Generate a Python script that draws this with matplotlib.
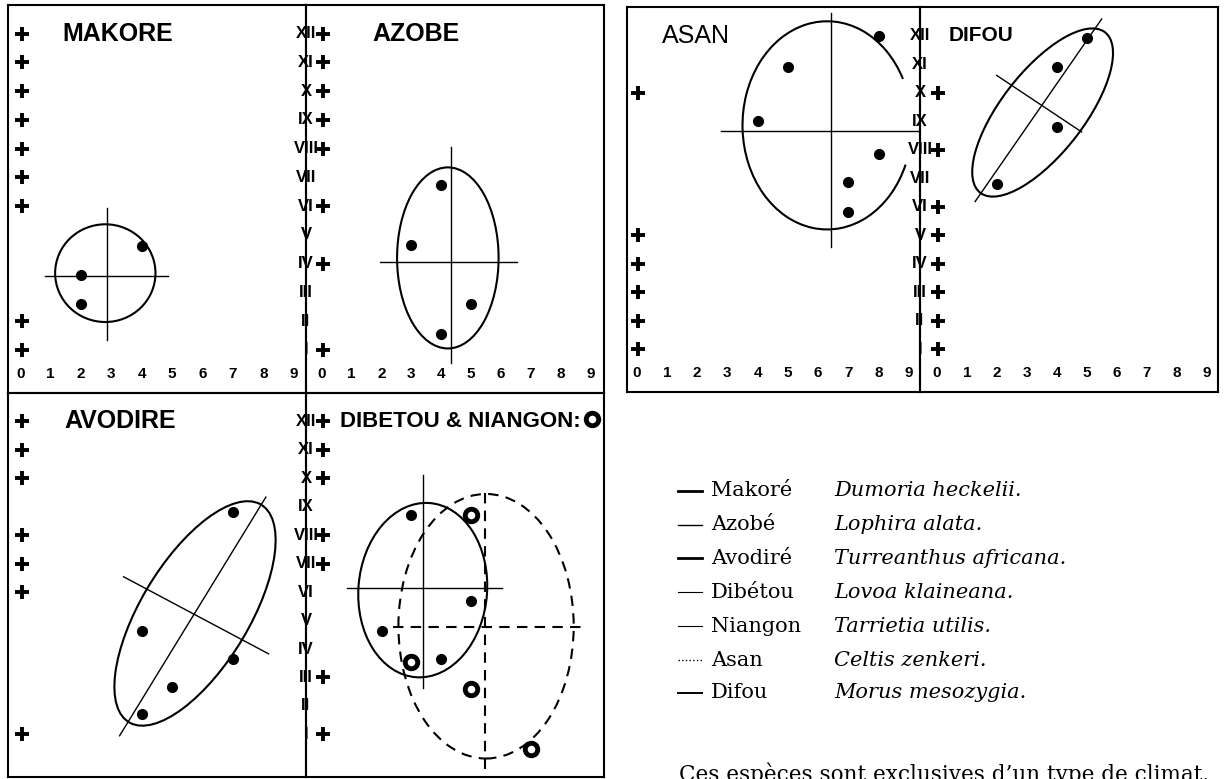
import matplotlib
matplotlib.use('Agg')
import matplotlib.pyplot as plt
from matplotlib.patches import Ellipse, Arc
from matplotlib.lines import Line2D

W, H = 1224, 779
SANS = ['Liberation Sans', 'DejaVu Sans']
SERIF = ['DejaVu Serif', 'Liberation Serif']

# months, I (bottom) .. XII (top)
months = list(range(1, 13))
roman = ['I', 'II', 'III', 'IV', 'V', 'VI', 'VII', 'VIII', 'IX', 'X', 'XI', 'XII']
xticks = list(range(10))

# months marked with a cross, per species
makore_plus = [12, 11, 10, 9, 8, 7, 6, 2, 1]
azobe_plus = [12, 11, 10, 9, 8, 6, 4, 1]
asan_plus = [10, 5, 4, 3, 2, 1]
difou_plus = [10, 8, 6, 5, 4, 3, 2, 1]
avodire_plus = [12, 11, 10, 8, 7, 6, 1]
dibetou_plus = [12, 11, 10, 8, 7, 3, 1]

# points
makore_x = [4, 2, 2]
makore_y = [4.6, 3.6, 2.6]
azobe_x = [4, 3, 5, 4]
azobe_y = [6.75, 4.65, 2.6, 1.55]
asan_x = [8, 5, 4, 8, 7, 7]
asan_y = [12.0, 10.9, 9.0, 7.85, 6.85, 5.8]
difou_x = [5, 4, 4, 2]
difou_y = [11.9, 10.9, 8.8, 6.8]
avodire_x = [7, 4, 7, 5, 4]
avodire_y = [8.8, 4.65, 3.65, 2.65, 1.7]
dibetou_x = [3, 5, 2, 4]
dibetou_y = [8.7, 5.7, 4.65, 3.65]
niangon_x = [5, 3, 5, 7]
niangon_y = [8.7, 3.55, 2.6, 0.5]

# envelopes: (cx, cy, width, height, angle) and axis lines ((x0, x1), (y0, y1))
makore_env = (2.8, 3.67, 3.3, 3.4, 0)
makore_lines = [((2.86, 2.86), (1.33, 5.95)), ((0.82, 4.87), (3.57, 3.57))]
azobe_env = (4.22, 4.2, 3.4, 6.3, 0)
azobe_lines = [((4.34, 4.34), (0.53, 8.06)), ((1.96, 6.52), (4.06, 4.06))]
asan_env = (6.3, 8.85, 5.6, 7.3, 0)
asan_lines = [((6.44, 6.44), (4.6, 12.8)), ((2.78, 9.3), (8.64, 8.64))]
difou_env = (3.53, 9.3, 7.0, 2.8, 54)
difou_lines = [((1.28, 5.5), (6.18, 12.58)), ((2.0, 4.83), (10.6, 8.62))]
avodire_env = (5.75, 5.25, 8.8, 3.6, 61)
avodire_lines = [((3.27, 8.08), (0.95, 9.34)), ((3.4, 8.17), (6.54, 3.83))]
dibetou_env = (3.38, 6.07, 4.31, 6.14, -4)
dibetou_lines = [((3.39, 3.39), (2.63, 10.1)), ((0.84, 6.04), (6.16, 6.16))]
niangon_env = (5.5, 4.8, 5.87, 9.3, 0)
niangon_lines = [((5.46, 5.46), (-0.21, 9.74)), ((2.4, 8.89), (4.77, 4.77))]

# legend
common = ['Makoré', 'Azobé', 'Avodiré', 'Dibétou', 'Niangon', 'Asan', 'Difou']
latin = ['Dumoria heckelii.', 'Lophira alata.', 'Turreanthus africana.',
         'Lovoa klaineana.', 'Tarrietia utilis.', 'Celtis zenkeri.', 'Morus mesozygia.']

fig = plt.figure(figsize=(W / 100, H / 100), dpi=100)


def panel(x0, y0, x1, y1, xlim, ticks=True):
    ax = fig.add_axes([x0 / W, 1 - y1 / H, (x1 - x0) / W, (y1 - y0) / H])
    ax.set_xlim(*xlim)
    ax.set_ylim(-0.5, 13.0)
    ax.set_yticks([])
    ax.set_facecolor('none')
    if ticks:
        ax.set_xticks(xticks, labels=[str(t) for t in xticks], fontweight='bold',
                      fontsize=11, family=SANS)
        ax.tick_params(axis='x', length=0, pad=-19)
    else:
        ax.set_xticks([])
    for s in ax.spines.values():
        s.set_linewidth(1.5)
    return ax


def fill(ax, title, plus, px, py, env, lines, tsize=18, tweight='bold', tx=1.4):
    ax.text(tx, 12.0, title, fontsize=tsize, fontweight=tweight, family=SANS,
            ha='left', va='center')
    ax.plot([0.05] * len(plus), plus, ls='none', marker='+', ms=9.5, mew=2.8, color='black')
    ax.plot(px, py, ls='none', marker='o', ms=7, color='black')
    cx, cy, w, h, a = env
    ax.add_patch(Ellipse((cx, cy), w, h, angle=a, fill=False, lw=1.5, ec='black'))
    for lx, ly in lines:
        ax.plot(lx, ly, color='black', lw=1.0)


def month_labels(ax):
    xr = ax.get_xlim()[1]
    for m, r in zip(months, roman):
        ax.text(xr, m, r, ha='center', va='center', fontsize=12, fontweight='bold',
                family=SANS, clip_on=False, zorder=5)


ax_mak = panel(8, 5, 306, 393, (-0.4, 9.4))
ax_azo = panel(306, 5, 604, 393, (-0.53, 9.45))
ax_asa = panel(627, 7, 920, 392, (-0.32, 9.37))
ax_dif = panel(920, 7, 1218, 392, (-0.56, 9.38))
ax_avo = panel(8, 393, 306, 777, (-0.4, 9.4), ticks=False)
ax_dib = panel(306, 393, 604, 777, (-0.53, 9.45), ticks=False)

fill(ax_mak, 'MAKORE', makore_plus, makore_x, makore_y, makore_env, makore_lines, tx=1.4)
fill(ax_azo, 'AZOBE', azobe_plus, azobe_x, azobe_y, azobe_env, azobe_lines, tx=1.7)
fill(ax_dif, 'DIFOU', difou_plus, difou_x, difou_y, difou_env, difou_lines, tsize=15, tx=0.38)
fill(ax_avo, 'AVODIRE', avodire_plus, avodire_x, avodire_y, avodire_env, avodire_lines, tx=1.45)
fill(ax_dib, 'DIBETOU & NIANGON:', dibetou_plus, dibetou_x, dibetou_y, dibetou_env,
     dibetou_lines, tsize=16, tx=0.6)

# Asan: open envelope
ax_asa.text(0.83, 12.0, 'ASAN', fontsize=18, family=SANS, ha='left', va='center')
ax_asa.plot([0.05] * len(asan_plus), asan_plus, ls='none', marker='+', ms=9.5, mew=2.8,
            color='black')
ax_asa.plot(asan_x, asan_y, ls='none', marker='o', ms=7, color='black')
cx, cy, w, h, a = asan_env
ax_asa.add_patch(Arc((cx, cy), w, h, angle=a, theta1=33, theta2=332, lw=1.5, color='black'))
for lx, ly in asan_lines:
    ax_asa.plot(lx, ly, color='black', lw=1.0)

# Niangon: dashed envelope and rings
cx, cy, w, h, a = niangon_env
ax_dib.add_patch(Ellipse((cx, cy), w, h, angle=a, fill=False, lw=1.5, ec='black',
                         ls=(0, (5, 3.5))))
for lx, ly in niangon_lines:
    ax_dib.plot(lx, ly, color='black', lw=1.5, ls=(0, (5, 3.5)))
ax_dib.plot(niangon_x, niangon_y, ls='none', marker='o', ms=9, mew=3.5, mfc='white',
            mec='black', zorder=4)
ax_dib.plot([9.06], [12.08], ls='none', marker='o', ms=9, mew=3.5, mfc='white',
            mec='black', clip_on=False)

for ax in (ax_mak, ax_asa, ax_avo):
    month_labels(ax)

# legend block
row_y = [491, 525, 558, 592, 626, 660, 693]
dash_w = [2.0, 1.0, 2.0, 0.8, 0.8, 1.0, 1.4]
dash_ls = ['-', '-', '-', '-', '-', ':', '-']
for yy, name, lat, lw, ls in zip(row_y, common, latin, dash_w, dash_ls):
    fy = 1 - yy / H
    fig.add_artist(Line2D([678 / W, 702 / W], [fy, fy], lw=lw, ls=ls, color='black'))
    fig.text(711 / W, fy, name, fontsize=15, family=SERIF, va='center', ha='left')
    fig.text(834 / W, fy, lat, fontsize=15, family=SERIF, style='italic',
             va='center', ha='left')

fig.text(679 / W, 1 - 763 / H, 'Ces espèces sont exclusives d\u2019un type de climat.',
         fontsize=15.5, family=SERIF, va='top', ha='left')

fig.savefig('out.png', dpi=100)
